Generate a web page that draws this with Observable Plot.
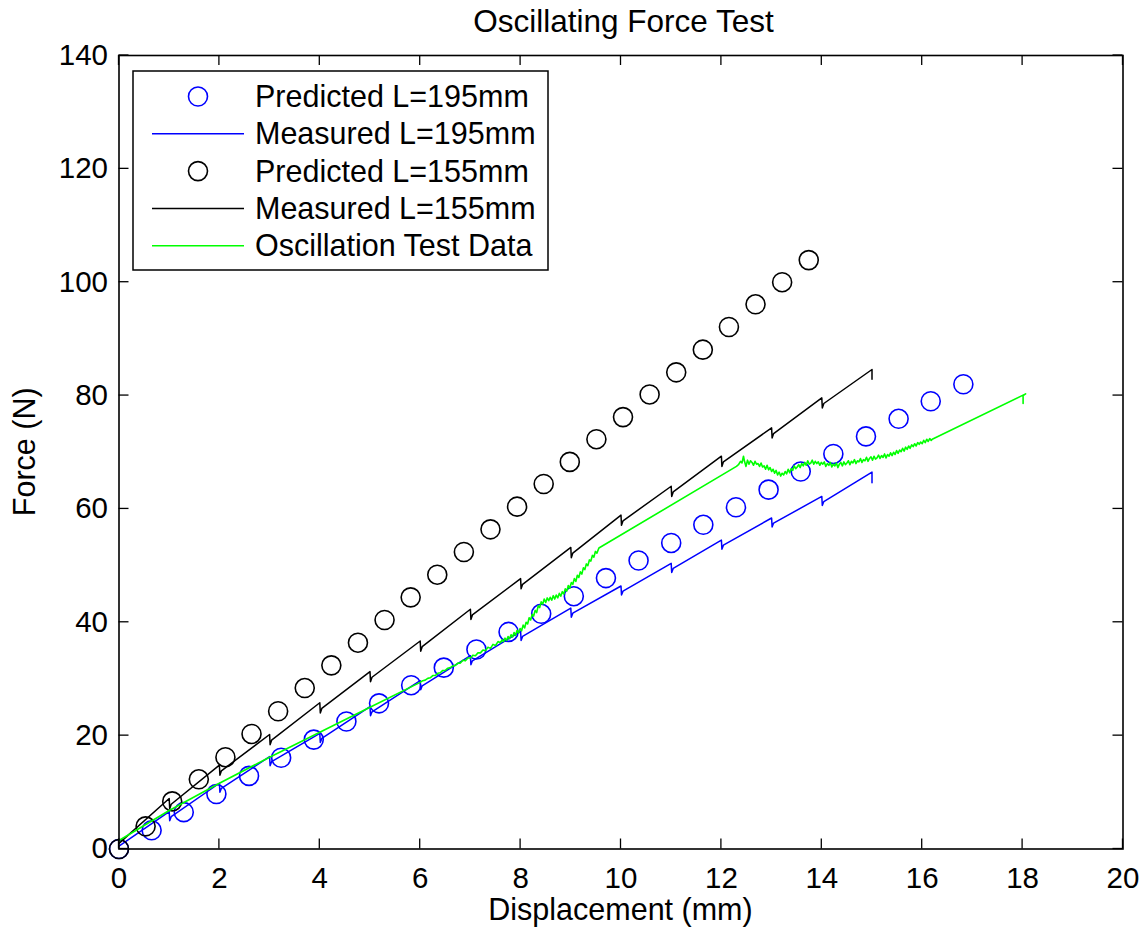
<!DOCTYPE html>
<html><head><meta charset="utf-8">
<script src="https://cdn.jsdelivr.net/npm/d3@7"></script>
<script src="https://cdn.jsdelivr.net/npm/@observablehq/plot@0.6"></script>
<style>body{margin:0;background:#fff} #chart svg{display:block}</style>
</head><body><div id="chart"></div>
<script>
const title = "Oscillating Force Test";
const xLabel = "Displacement (mm)";
const yLabel = "Force (N)";
const xTicks = [0, 2, 4, 6, 8, 10, 12, 14, 16, 18, 20];
const yTicks = [0, 20, 40, 60, 80, 100, 120, 140];
const seriesNames = ["Predicted L=195mm", "Measured L=195mm", "Predicted L=155mm", "Measured L=155mm", "Oscillation Test Data"];
const seriesColors = ["#0000ff", "#0000ff", "#000000", "#000000", "#00ff00"];
const seriesKinds = ["circle", "line", "circle", "line", "line"];

// Predicted L=195mm (circles)
const pred195X = [0, 0.65, 1.29, 1.94, 2.59, 3.23, 3.88, 4.53, 5.18, 5.82, 6.47, 7.12, 7.76, 8.41, 9.06, 9.70, 10.35, 11.0, 11.64, 12.29, 12.94, 13.58, 14.23, 14.88, 15.53, 16.17, 16.82];
const pred195Y = [0, 3.3, 6.5, 9.7, 12.9, 16.1, 19.3, 22.5, 25.7, 28.9, 32.0, 35.2, 38.3, 41.5, 44.6, 47.8, 50.9, 54.0, 57.2, 60.3, 63.4, 66.6, 69.7, 72.8, 75.9, 79.0, 82.0];

// Predicted L=155mm (circles)
const pred155X = [0, 0.53, 1.06, 1.59, 2.12, 2.64, 3.17, 3.70, 4.23, 4.76, 5.29, 5.81, 6.34, 6.87, 7.40, 7.93, 8.46, 8.98, 9.51, 10.04, 10.57, 11.10, 11.63, 12.15, 12.68, 13.21, 13.74];
const pred155Y = [0, 4.0, 8.4, 12.3, 16.2, 20.3, 24.3, 28.4, 32.4, 36.4, 40.4, 44.4, 48.4, 52.4, 56.4, 60.4, 64.4, 68.3, 72.3, 76.2, 80.2, 84.1, 88.1, 92.1, 96.1, 100.0, 103.9];

// Measured L=195mm (line with unloading notches)
const meas195 = [[0,0.5],
 [1,6.6],[1.01,5.0],[1.04,5.7],
 [2,11.6],[2.01,10.0],[2.04,10.7],
 [3,16.3],[3.01,14.7],[3.04,15.4],
 [4,20.4],[4.01,18.8],[4.04,19.5],
 [5,25.1],[5.01,23.5],[5.04,24.2],
 [6,29.7],[6.01,28.1],[6.04,28.8],
 [7,34.1],[7.01,32.5],[7.04,33.2],
 [8,38.4],[8.01,36.8],[8.04,37.5],
 [9,42.5],[9.01,40.9],[9.04,41.6],
 [10,46.4],[10.01,44.8],[10.04,45.5],
 [11,50.4],[11.01,48.8],[11.04,49.5],
 [12,54.5],[12.01,52.9],[12.04,53.6],
 [13,58.4],[13.01,56.8],[13.04,57.5],
 [14,62.2],[14.01,60.6],[14.04,61.3],
 [15,66.5],[15,64.6]];

// Measured L=155mm
const meas155 = [[0,1.0],
 [1,8.9],[1.01,7.1],[1.04,7.9],
 [2,14.8],[2.01,13.0],[2.04,13.8],
 [3,20.2],[3.01,18.4],[3.04,19.2],
 [4,25.8],[4.01,24.0],[4.04,24.8],
 [5,31.3],[5.01,29.5],[5.04,30.3],
 [6,36.7],[6.01,34.9],[6.04,35.7],
 [7,42.3],[7.01,40.5],[7.04,41.3],
 [8,47.7],[8.01,45.9],[8.04,46.7],
 [9,53.2],[9.01,51.4],[9.04,52.2],
 [10,58.9],[10.01,57.1],[10.04,57.9],
 [11,64.0],[11.01,62.2],[11.04,63.0],
 [12,69.3],[12.01,67.5],[12.04,68.3],
 [13,74.3],[13.01,72.5],[13.04,73.3],
 [14,79.6],[14.01,77.8],[14.04,78.6],
 [15,84.6],[15,82.9]];

// Oscillation Test Data
const oscData = [[0,1.5],[1,6.8],[2,11.6],[3,16.2],[4,20.6],[5,25.0],
 [6.00,29.4],[6.05,29.7],[6.10,29.8],[6.15,30.1],[6.20,30.2],[6.25,30.6],[6.30,30.6],[6.35,31.0],[6.40,31.1],[6.45,31.5],
 [6.50,31.5],[6.55,31.9],[6.60,32.0],[6.65,32.3],[6.70,32.4],[6.75,32.8],[6.80,32.8],[6.85,33.3],[6.90,33.2],[6.95,33.7],
 [7.00,33.7],[7.05,34.2],[7.10,34.1],[7.15,34.6],[7.20,34.6],[7.25,35.1],[7.30,35.0],[7.35,35.6],[7.40,35.4],[7.45,36.1],
 [7.50,35.9],[7.55,36.6],
 [7.60,36.4],[7.63,36.9],[7.66,36.6],[7.69,37.2],[7.72,36.8],[7.75,37.5],[7.78,37.1],[7.81,37.8],[7.84,37.4],[7.87,38.2],
 [7.90,37.7],[7.93,38.6],[7.96,38.1],[7.99,38.9],[8.02,38.5],[8.05,39.5],[8.08,39.0],[8.11,40.0],[8.14,39.7],[8.17,40.8],
 [8.20,40.4],[8.23,41.4],[8.26,41.1],[8.29,42.1],[8.32,41.7],[8.35,42.9],[8.38,42.6],[8.41,43.6],[8.44,43.2],[8.47,44.1],
 [8.50,43.5],[8.53,44.3],[8.56,43.8],[8.59,44.4],[8.62,43.9],[8.65,44.7],[8.68,44.1],[8.71,44.8],[8.74,44.3],[8.77,45.1],
 [8.80,44.6],[8.83,45.4],[8.86,45.0],[8.89,45.9],[8.92,45.5],[8.95,46.5],[8.98,46.0],[9.01,47.0],[9.04,46.7],[9.07,47.7],
 [9.10,47.2],[9.13,48.3],[9.16,47.9],[9.19,48.9],[9.22,48.5],[9.25,49.6],[9.28,49.3],[9.31,50.3],[9.34,50.0],[9.37,51.0],
 [9.40,50.8],[9.43,51.8],[9.46,51.5],[9.49,52.5],[9.52,52.2],[9.56,53.1],
 [12.30,67.5],[12.34,67.8],[12.38,68.4],[12.41,68.1],[12.44,69.3],[12.46,68.4],[12.49,67.5],[12.52,68.6],[12.55,67.9],
 [12.58,68.5],[12.61,68.2],[12.64,67.7],[12.67,68.4],[12.70,67.9],[12.73,68.0],[12.76,67.5],[12.79,68.1],[12.82,67.4],
 [12.85,67.6],[12.88,67.0],[12.91,67.7],[12.94,66.9],[12.97,67.3],[13.00,66.6],[13.03,67.0],[13.06,66.3],[13.09,66.8],
 [13.12,66.0],[13.15,66.5],[13.18,65.8],[13.21,66.3],[13.24,66.0],[13.27,66.6],[13.30,66.2],[13.33,67.0],[13.36,66.4],
 [13.39,67.1],[13.42,66.8],[13.45,67.6],[13.48,67.1],[13.51,67.4],[13.54,67.8],[13.57,67.3],[13.60,68.0],[13.63,67.6],
 [13.66,68.2],[13.69,67.7],[13.72,68.5],[13.75,67.9],[13.78,68.1],[13.81,68.6],[13.84,67.9],[13.87,68.4],[13.90,68.0],
 [13.93,68.3],[13.96,67.7],[13.99,68.2],[14.02,67.9],[14.05,68.3],[14.08,67.5],[14.11,68.0],[14.14,67.7],[14.17,68.2],
 [14.20,67.4],[14.23,67.9],[14.26,67.6],[14.29,68.1],[14.32,67.3],[14.35,67.9],[14.38,68.2],[14.41,67.6],[14.44,68.3],
 [14.47,67.8],[14.50,68.1],[14.53,68.5],[14.56,67.8],[14.59,68.4],[14.62,68.1],[14.65,68.7],[14.68,68.0],[14.71,68.5],
 [14.74,68.3],[14.77,68.9],[14.80,68.2],[14.83,68.7],[14.86,68.5],[14.89,69.1],[14.92,68.4],[14.95,68.9],[14.98,69.2],
 [15.01,68.6],[15.04,69.3],[15.07,68.8],[15.10,69.0],[15.13,69.5],[15.16,68.9],[15.19,69.4],[15.22,69.1],[15.25,69.7],
 [15.28,69.0],[15.31,69.6],[15.34,69.3],[15.37,69.9],[15.40,69.4],[15.43,70.0],[15.46,69.6],[15.49,70.3],[15.52,69.8],
 [15.55,70.4],[15.58,70.1],[15.61,70.7],[15.64,70.2],[15.67,70.9],[15.70,70.5],[15.73,71.1],[15.76,70.7],[15.79,71.3],
 [15.82,71.0],[15.85,71.5],[15.88,71.1],[15.91,71.7],[15.94,71.4],[15.97,71.8],[16.00,71.5],[16.03,72.1],[16.06,71.7],
 [16.09,72.3],[16.12,71.9],[16.15,72.4],[16.18,72.1],[16.20,72.3],
 [18.06,80.3],[18.01,80.0],[18.01,78.6]];

const FONT = "'Liberation Sans', Arial, Helvetica, sans-serif";
const FS_TICK = 29.5;
const FS_LABEL = 30.5;
const FS_TITLE = 31.5;
const FS_LEGEND = 30.5;

const pts = (xs, ys) => xs.map((x, i) => ({x, y: ys[i]}));
const pairs = (arr) => arr.map(([x, y]) => ({x, y}));

const plot = Plot.plot({
  width: 1144, height: 930,
  marginTop: 55, marginRight: 21.5, marginBottom: 81.5, marginLeft: 118.5,
  style: {fontFamily: FONT, fontSize: FS_TICK + "px", color: "#000", background: "#fff", overflow: "visible"},
  x: {domain: [0, 20]},
  y: {domain: [0, 140]},
  marks: [
    Plot.axisX(xTicks, {tickSize: 0, tickPadding: 18, label: null, fontSize: FS_TICK}),
    Plot.axisY(yTicks, {tickSize: 0, tickPadding: 11, label: null, fontSize: FS_TICK}),
    Plot.dot(pts(pred195X, pred195Y), {x: "x", y: "y", r: 9.5, stroke: seriesColors[0], strokeWidth: 1.6, fill: "none"}),
    Plot.line(pairs(meas195), {x: "x", y: "y", stroke: seriesColors[1], strokeWidth: 1.5}),
    Plot.dot(pts(pred155X, pred155Y), {x: "x", y: "y", r: 9.5, stroke: seriesColors[2], strokeWidth: 1.6, fill: "none"}),
    Plot.line(pairs(meas155), {x: "x", y: "y", stroke: seriesColors[3], strokeWidth: 1.5}),
    Plot.line(pairs(oscData), {x: "x", y: "y", stroke: seriesColors[4], strokeWidth: 1.6}),
    Plot.frame({stroke: "#000", strokeWidth: 1.6})
  ]
});

const svg = d3.select(plot);
const sx = plot.scale("x"), sy = plot.scale("y");
const [x0, x1] = sx.range, [y0, y1] = sy.range; // y0 bottom, y1 top
const TL = 10;
const tg = svg.append("g").attr("stroke", "#000").attr("stroke-width", 1.3);
xTicks.forEach(v => {
  const px = sx.apply(v);
  tg.append("line").attr("x1", px).attr("x2", px).attr("y1", y0).attr("y2", y0 - TL);
  tg.append("line").attr("x1", px).attr("x2", px).attr("y1", y1).attr("y2", y1 + TL);
});
yTicks.forEach(v => {
  const py = sy.apply(v);
  tg.append("line").attr("x1", x0).attr("x2", x0 + TL).attr("y1", py).attr("y2", py);
  tg.append("line").attr("x1", x1).attr("x2", x1 - TL).attr("y1", py).attr("y2", py);
});

const txt = svg.append("g").attr("font-family", FONT).attr("fill", "#000").attr("text-anchor", "middle");
txt.append("text").attr("x", (x0 + x1) / 2 + 3).attr("y", 32).attr("font-size", FS_TITLE).text(title);
txt.append("text").attr("x", (x0 + x1) / 2).attr("y", 920).attr("font-size", FS_LABEL).text(xLabel);
txt.append("text").attr("transform", `translate(35,${(y0 + y1) / 2}) rotate(-90)`).attr("font-size", FS_LABEL).text(yLabel);

// Legend
const lg = svg.append("g");
lg.append("rect").attr("x", 133).attr("y", 71).attr("width", 415).attr("height", 199)
  .attr("fill", "#fff").attr("stroke", "#000").attr("stroke-width", 1.5);
seriesNames.forEach((name, i) => {
  const cy = 96.5 + i * 37.3;
  if (seriesKinds[i] === "circle") {
    lg.append("circle").attr("cx", 198).attr("cy", cy).attr("r", 9.5).attr("fill", "none")
      .attr("stroke", seriesColors[i]).attr("stroke-width", 1.6);
  } else {
    lg.append("line").attr("x1", 152).attr("x2", 244).attr("y1", cy).attr("y2", cy)
      .attr("stroke", seriesColors[i]).attr("stroke-width", 1.5);
  }
  lg.append("text").attr("x", 255).attr("y", cy + 10.5).attr("font-family", FONT).attr("font-size", FS_LEGEND)
    .attr("text-anchor", "start").attr("fill", "#000").text(name);
});

document.getElementById("chart").appendChild(plot);
</script>
</body></html>
